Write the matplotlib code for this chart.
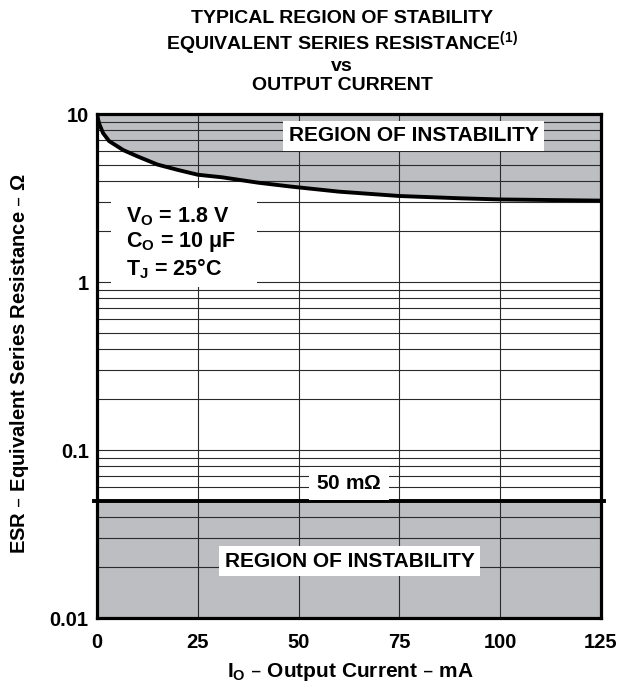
import matplotlib.pyplot as plt
from matplotlib.patches import Rectangle
from matplotlib.ticker import LogLocator, NullFormatter, FixedLocator

plt.rcParams["font.family"] = ["Liberation Sans", "DejaVu Sans"]
plt.rcParams["font.weight"] = "bold"
plt.rcParams["mathtext.default"] = "regular"

# ---------------------------------------------------------------------
# Data
# ---------------------------------------------------------------------
curve_current = [0, 0.5, 1.5, 3, 6.5, 10, 15, 20, 25, 31, 40, 48, 60, 75, 90, 100, 110, 125]
curve_esr = [10, 8.8, 7.7, 6.9, 6.1, 5.6, 5.0, 4.65, 4.35, 4.2, 3.9, 3.7, 3.45, 3.25, 3.15, 3.1, 3.08, 3.05]

esr_min = 0.05
esr_top = 10
esr_bottom = 0.01

x_ticks = [0, 25, 50, 75, 100, 125]
y_ticks = [0.01, 0.1, 1, 10]
y_tick_labels = ["0.01", "0.1", "1", "10"]

GRAY = "#bdbec1"
GRID = "#2a2a2a"

fig = plt.figure(figsize=(6.18, 6.89), dpi=100)
ax = fig.add_axes([97 / 618, 1 - 618 / 689, 504 / 618, 504 / 689])

# instability regions
ax.fill_between(curve_current, curve_esr, esr_top, color=GRAY, lw=0, zorder=0.5)
ax.axhspan(esr_bottom, esr_min, color=GRAY, lw=0, zorder=0.5)

# boundary lines
ax.plot(curve_current, curve_esr, color="black", lw=2.8, solid_capstyle="butt", zorder=3)
ax.axhline(esr_min, xmin=-0.005, xmax=1.005, color="black", lw=2.8, clip_on=False, zorder=3)

ax.set_yscale("log")
ax.set_xlim(0, 125)
ax.set_ylim(esr_bottom, esr_top)

ax.xaxis.set_major_locator(FixedLocator(x_ticks))
ax.yaxis.set_major_locator(FixedLocator(y_ticks))
ax.set_yticklabels(y_tick_labels)
ax.yaxis.set_minor_locator(LogLocator(base=10, subs=range(2, 10)))
ax.yaxis.set_minor_formatter(NullFormatter())

ax.grid(True, which="both", axis="y", color=GRID, lw=0.8)
ax.grid(True, which="major", axis="x", color=GRID, lw=0.8)
ax.set_axisbelow("line")

ax.tick_params(which="both", length=0, labelsize=14.5)
ax.tick_params(axis="x", pad=11)
ax.tick_params(axis="y", pad=6)
for lab in ax.get_xticklabels() + ax.get_yticklabels():
    lab.set_fontweight("bold")

for s in ax.spines.values():
    s.set_linewidth(2.3)
    s.set_zorder(4)

fig.text(350 / 618, 1 - 672 / 689, "I$_{O}$ \u2013 Output Current \u2013 mA",
         fontsize=15, fontweight="bold", ha="center", va="center")
fig.text(20 / 618, 1 - 364 / 689, "ESR \u2013 Equivalent Series Resistance \u2013 $\\Omega$",
         fontsize=14.5, fontweight="bold", ha="center", va="center", rotation=90)

# white label backgrounds
ax.add_patch(Rectangle((3.5, 0.93), 36.2, 3.63 - 0.93, facecolor="white", edgecolor="none", zorder=2.5))

ax.text(78.6, 7.4, "REGION OF INSTABILITY", fontsize=15, fontweight="bold",
        ha="center", va="center", bbox=dict(facecolor="white", edgecolor="none", pad=4), zorder=5)
ax.text(62.7, 0.0218, "REGION OF INSTABILITY", fontsize=15, fontweight="bold",
        ha="center", va="center", bbox=dict(facecolor="white", edgecolor="none", pad=4), zorder=5)
ax.text(62.5, 0.063, "50 m$\\Omega$", fontsize=15, fontweight="bold",
        ha="center", va="center", bbox=dict(facecolor="white", edgecolor="none", pad=5), zorder=5)

ax.text(7.2, 1.7, "V$_{O}$ = 1.8 V\nC$_{O}$ = 10 $\\mu$F\nT$_{J}$ = 25\u00b0C",
        fontsize=15.5, fontweight="bold", ha="left", va="center", linespacing=1.12, zorder=5)

fig.text(342 / 618, 1 - 10 / 689,
         "TYPICAL REGION OF STABILITY\nEQUIVALENT SERIES RESISTANCE$^{(1)}$\nvs\nOUTPUT CURRENT",
         fontsize=14, fontweight="bold", ha="center", va="top", linespacing=1.1)

plt.savefig("out.png", dpi=100)
plt.close(fig)
